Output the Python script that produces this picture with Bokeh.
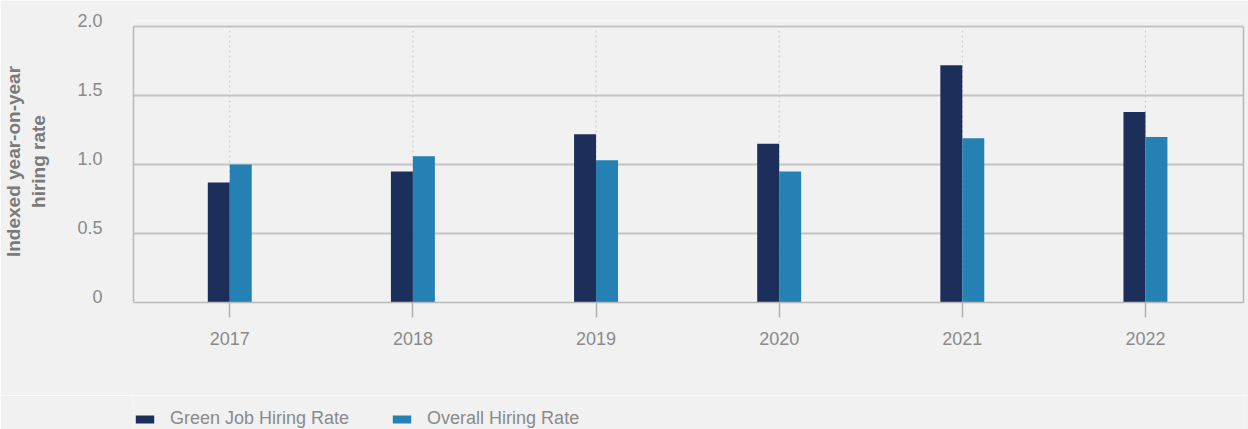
from bokeh.plotting import figure
from bokeh.layouts import column
from bokeh.models import (Legend, LegendItem, FixedTicker, Range1d, ColumnDataSource,
                          LinearAxis)
from bokeh.transform import dodge
from bokeh.embed import file_html
from bokeh.resources import INLINE

years = ["2017", "2018", "2019", "2020", "2021", "2022"]
green_rate = [0.87, 0.95, 1.22, 1.15, 1.72, 1.38]
overall_rate = [1.00, 1.06, 1.03, 0.95, 1.19, 1.20]
y_ticks = [0, 0.5, 1, 1.5, 2]
y_tick_labels = ["0", "0.5", "1.0", "1.5", "2.0"]
series_names = ["Green Job Hiring Rate", "Overall Hiring Rate"]

GREEN_C = "#1c2f5b"
OVERALL_C = "#2581b4"
BG = "#f1f1f1"
FONT = "Liberation Sans"
TICK_C = "#8a8a8a"
BORDER_C = "#b8b8b8"

xs = list(range(len(years)))
src = ColumnDataSource(dict(x=xs, green=green_rate, overall=overall_rate))
grid_src = ColumnDataSource(dict(x=xs, y0=[y_ticks[0]] * len(xs),
                                 y1=[y_ticks[-1]] * len(xs)))

Y0, Y1 = y_ticks[0], y_ticks[-1]
SHIFT = 0.0435  # tick labels sit slightly above their gridlines
X_RANGE = Range1d(-0.5257, 5.5355)

p = figure(width=1248, height=395, output_backend="svg", toolbar_location=None,
           x_range=X_RANGE, y_range=Range1d(Y0, Y1 + SHIFT),
           y_axis_location=None,
           min_border_left=132, min_border_right=5, min_border_top=20,
           min_border_bottom=93)
p.extra_y_ranges = {"labels": Range1d(Y0 - SHIFT, Y1)}
p.background_fill_color = BG
p.border_fill_color = BG
p.outline_line_color = None

# dotted vertical guides at each category, drawn under the bars
p.segment(x0="x", y0="y0", x1="x", y1="y1", source=grid_src,
          line_color="#c6c6c6", line_dash="2 3", line_width=1)

g = p.vbar(x=dodge("x", -0.06, range=p.x_range), top="green", width=0.12,
           source=src, fill_color=GREEN_C, line_color=None)
o = p.vbar(x=dodge("x", 0.06, range=p.x_range), top="overall", width=0.12,
           source=src, fill_color=OVERALL_C, line_color=None)

# x axis (its line is the bottom border)
p.xaxis.ticker = FixedTicker(ticks=xs)
p.xaxis.major_label_overrides = {i: y for i, y in zip(xs, years)}
p.xaxis.axis_line_color = BORDER_C
p.xaxis.axis_line_width = 1.5
p.xaxis.major_tick_out = 15
p.xaxis.major_tick_in = 0
p.xaxis.major_tick_line_color = "#b0b0b0"
p.xaxis.major_tick_line_width = 1.5
p.xaxis.minor_tick_line_color = None
p.xaxis.major_label_standoff = 14
p.xaxis.major_label_text_font = FONT
p.xaxis.major_label_text_font_size = "18px"
p.xaxis.major_label_text_color = TICK_C

# y axis (labels drawn on a slightly offset range; its line is the left border)
yax = LinearAxis(y_range_name="labels", ticker=FixedTicker(ticks=y_ticks),
                 bounds=(Y0 - SHIFT, Y1 - SHIFT),
                 major_label_overrides={t: l for t, l in zip(y_ticks, y_tick_labels)},
                 axis_line_color=BORDER_C, axis_line_width=1.5,
                 major_tick_line_color=None,
                 minor_tick_line_color=None, major_tick_in=0, major_tick_out=0,
                 major_label_standoff=31, major_label_text_font=FONT,
                 major_label_text_font_size="18px", major_label_text_color=TICK_C,
                 axis_label="Indexed year-on-year\nhiring rate",
                 axis_label_text_font=FONT, axis_label_text_font_style="bold",
                 axis_label_text_font_size="19px", axis_label_text_color="#7a7a7a",
                 axis_label_standoff=25)
p.add_layout(yax, "left")

# right border
rax = LinearAxis(ticker=FixedTicker(ticks=[]), bounds=(Y0, Y1),
                 axis_line_color=BORDER_C, axis_line_width=1.5,
                 major_tick_line_color=None, minor_tick_line_color=None,
                 major_tick_in=0, major_tick_out=0, major_label_standoff=0)
p.add_layout(rax, "right")

# grids (the line at 2.0 is the top border)
p.xgrid.visible = False
p.ygrid.ticker = FixedTicker(ticks=y_ticks[1:])
p.ygrid.grid_line_color = "#c4c4c4"
p.ygrid.grid_line_width = 2

# legend strip (separate figure so the legend can sit freely below the axis)
q = figure(width=1248, height=34, output_backend="svg", toolbar_location=None,
           x_range=Range1d(-0.5257, 5.5355), y_range=Range1d(5, 6),
           min_border=0)
q.axis.visible = False
q.grid.visible = False
q.outline_line_color = None
q.background_fill_color = BG
q.border_fill_color = BG
lg = q.vbar(x="x", top="green", width=0.12, source=src,
            fill_color=GREEN_C, line_color=None)
lo = q.vbar(x="x", top="overall", width=0.12, source=src,
            fill_color=OVERALL_C, line_color=None)

legend = Legend(items=[LegendItem(label=series_names[0], renderers=[lg]),
                       LegendItem(label=series_names[1], renderers=[lo])],
                location=(0, 0), orientation="horizontal",
                glyph_width=23, glyph_height=10, label_standoff=14, spacing=41,
                padding=0, margin=0, border_line_color=None,
                background_fill_alpha=0,
                label_text_font=FONT, label_text_font_size="18px",
                label_text_color=TICK_C)
q.add_layout(legend, "center")

layout = column(p, q, spacing=0)
open("out.html", "w").write(file_html(layout, INLINE))
